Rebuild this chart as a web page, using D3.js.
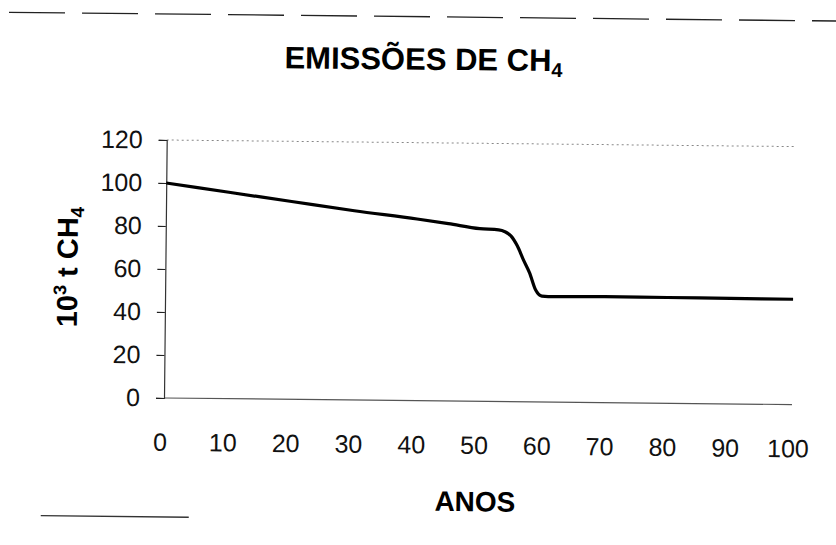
<!DOCTYPE html>
<html><head><meta charset="utf-8">
<script src="https://cdn.jsdelivr.net/npm/d3@7"></script>
<style>body{margin:0;background:#fff}svg{display:block}</style></head>
<body><svg id="c" width="836" height="545"></svg>
<script>
const years = [0, 10, 20, 30, 40, 45, 50, 53, 54, 55, 56, 57, 58, 59, 60, 61, 70, 80, 90, 100];
const emissions = [100, 96, 92, 88, 84.5, 82.5, 80.3, 79.8, 79, 77, 72.5, 66, 60, 52, 49.2, 49, 49.3, 49.2, 49.1, 49];
const yTicks = [0, 20, 40, 60, 80, 100, 120];
const xTicks = [0, 10, 20, 30, 40, 50, 60, 70, 80, 90, 100];

const svg = d3.select("#c");
const font = "'Liberation Sans', Arial, sans-serif";
const x = d3.scaleLinear().domain([0, 100]).range([164, 792]);
const y = d3.scaleLinear().domain([0, 120]).range([398, 140]);

// slight scan tilt
const g = svg.append("g").attr("transform", `rotate(0.6, ${x(0)}, ${y(0)})`);

// frame remnants
g.append("line").attr("x1", 5).attr("x2", 836).attr("y1", 14).attr("y2", 14)
  .attr("stroke", "#222").attr("stroke-width", 1.3).attr("stroke-dasharray", "56,17");
g.append("line").attr("x1", 42).attr("x2", 190).attr("y1", 517).attr("y2", 517)
  .attr("stroke", "#333").attr("stroke-width", 1.3);

// plot border top (dotted)
g.append("line").attr("x1", x(0)).attr("x2", x(100)).attr("y1", y(120)).attr("y2", y(120))
  .attr("stroke", "#888").attr("stroke-width", 1).attr("stroke-dasharray", "2,3");
// bottom axis line
g.append("line").attr("x1", x(0)).attr("x2", x(100)).attr("y1", y(0)).attr("y2", y(0))
  .attr("stroke", "#555").attr("stroke-width", 1.2);

// y axis
const ya = g.append("g").attr("transform", `translate(${x(0)},0)`)
  .call(d3.axisLeft(y).tickValues(yTicks).tickSize(8).tickPadding(16));
ya.select(".domain").attr("stroke", "#333").attr("stroke-width", 1.2);
ya.selectAll(".tick line").attr("stroke", "#222").attr("stroke-width", 1.2);
ya.selectAll("text").attr("font-family", font).attr("font-size", 25).attr("fill", "#111");

// x axis labels
const xa = g.append("g").attr("transform", `translate(0,${y(0)})`)
  .call(d3.axisBottom(x).tickValues(xTicks).tickSize(0).tickPadding(35));
xa.select(".domain").remove();
xa.selectAll("text").attr("font-family", font).attr("font-size", 25).attr("fill", "#111").attr("dx", -4);

// line
const line = d3.line().x((d, i) => x(years[i])).y(d => y(d)).curve(d3.curveMonotoneX);
g.append("path").datum(emissions).attr("d", line)
  .attr("fill", "none").attr("stroke", "#000").attr("stroke-width", 3.2).attr("stroke-linejoin", "round");

// title
const t = g.append("text").attr("x", 420).attr("y", 67).attr("text-anchor", "middle")
  .attr("font-family", font).attr("font-weight", "bold").attr("font-size", 31).attr("fill", "#000");
t.append("tspan").text("EMISSÕES DE CH");
t.append("tspan").attr("font-size", 20).attr("dy", 6).text("4");

// y title
const yt = g.append("text").attr("transform", "translate(76,268) rotate(-90)").attr("text-anchor", "middle")
  .attr("font-family", font).attr("font-weight", "bold").attr("font-size", 29).attr("fill", "#000");
yt.append("tspan").text("10");
yt.append("tspan").attr("font-size", 18).attr("dy", -11).text("3");
yt.append("tspan").attr("dy", 11).text(" t CH");
yt.append("tspan").attr("font-size", 19).attr("dy", 6).text("4");

// x title
g.append("text").attr("x", 476).attr("y", 508).attr("text-anchor", "middle")
  .attr("font-family", font).attr("font-weight", "bold").attr("font-size", 28).attr("fill", "#000")
  .text("ANOS");
</script></body></html>
